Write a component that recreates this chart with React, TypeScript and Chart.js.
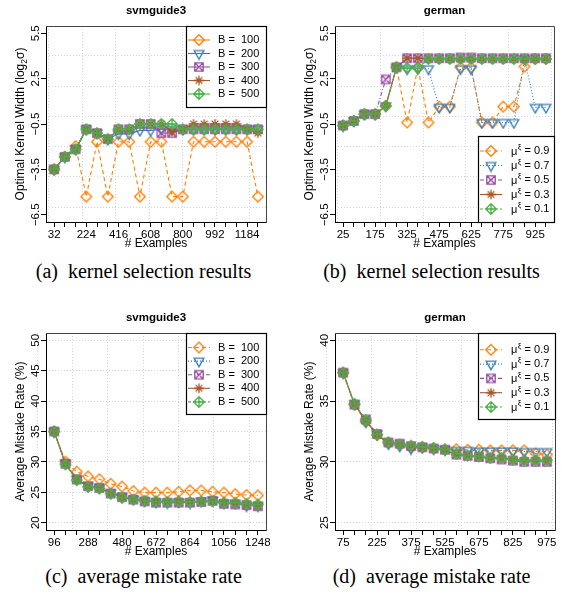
import React, { useEffect, useRef } from 'react';
import { Chart, registerables } from 'chart.js';
Chart.register(...registerables);

const FONT = '"Liberation Sans", Arial, Helvetica, sans-serif';
const SERIF = '"Liberation Serif", "Times New Roman", Times, serif';

const COLORS = ['#FF7F00', '#377EB8', '#984EA3', '#A65628', '#4DAF4A'];
const B_LABELS = ['B =  100', 'B =  200', 'B =  300', 'B =  400', 'B =  500'];
const MU_LABELS = ['0.9', '0.7', '0.5', '0.3', '0.1'];

// (a) svmguide3 – optimal kernel width
const kernelSvmExamples = [32, 96, 160, 224, 288, 352, 416, 480, 544, 608, 672, 736, 800, 864, 928, 992, 1056, 1120, 1184, 1248];
const kernelSvmB100 = [-3.5, -2.67, -1.97, -5.3, -1.67, -5.3, -1.67, -1.67, -5.3, -1.67, -1.67, -5.3, -5.3, -1.67, -1.67, -1.67, -1.67, -1.67, -1.67, -5.3];
const kernelSvmB200 = [-3.5, -2.67, -2.17, -0.85, -1.1, -1.5, -1.15, -1.15, -0.92, -0.92, -0.85, -0.85, -0.85, -0.85, -0.85, -0.85, -0.85, -0.85, -0.85, -0.85];
const kernelSvmB300 = [-3.5, -2.67, -2.17, -0.85, -1.1, -1.5, -0.85, -0.85, -0.5, -0.5, -1.1, -1.1, -0.85, -0.85, -0.85, -0.85, -0.85, -0.85, -0.85, -0.85];
const kernelSvmB400 = [-3.5, -2.67, -2.17, -0.85, -1.1, -1.5, -0.85, -0.85, -0.5, -0.5, -0.5, -1.0, -0.85, -0.5, -0.5, -0.5, -0.5, -0.5, -0.85, -1.1];
const kernelSvmB500 = [-3.5, -2.67, -2.17, -0.85, -1.1, -1.5, -0.85, -0.85, -0.5, -0.5, -0.5, -0.5, -0.85, -0.85, -0.85, -0.85, -0.85, -0.85, -0.85, -0.85];

// (b) german – optimal kernel width
const kernelGerExamples = [25, 75, 125, 175, 225, 275, 325, 375, 425, 475, 525, 575, 625, 675, 725, 775, 825, 875, 925, 975];
const kernelGerMu09 = [-0.6, -0.3, 0.15, 0.15, 0.7, 3.25, -0.4, 3.25, -0.4, 0.65, 0.65, 3.25, 3.25, -0.4, -0.4, 0.65, 0.65, 3.3, 3.8, 3.8];
const kernelGerMu07 = [-0.6, -0.3, 0.15, 0.15, 0.7, 3.25, 3.15, 3.15, 3.15, 0.6, 0.6, 3.15, 3.15, -0.4, -0.4, -0.4, -0.4, 3.8, 0.6, 0.6];
const kernelGerMu05 = [-0.6, -0.3, 0.15, 0.15, 2.45, 3.25, 3.85, 3.85, 3.85, 3.85, 3.85, 3.9, 3.9, 3.85, 3.85, 3.85, 3.85, 3.85, 3.85, 3.85];
const kernelGerMu03 = [-0.6, -0.3, 0.15, 0.15, 0.7, 3.25, 3.85, 3.85, 3.8, 3.8, 3.8, 3.8, 3.8, 3.8, 3.8, 3.8, 3.8, 3.8, 3.8, 3.8];
const kernelGerMu01 = [-0.6, -0.3, 0.15, 0.15, 0.7, 3.25, 3.2, 3.2, 3.8, 3.8, 3.8, 3.8, 3.8, 3.8, 3.8, 3.8, 3.8, 3.8, 3.8, 3.8];

// (c) svmguide3 – average mistake rate
const mistakeSvmExamples = [96, 160, 224, 288, 352, 416, 480, 544, 608, 672, 736, 800, 864, 928, 992, 1056, 1120, 1184, 1248];
const mistakeSvmB100 = [35.0, 30.05, 28.4, 27.6, 27.15, 26.4, 25.95, 25.2, 24.95, 24.95, 24.95, 25.1, 25.3, 25.3, 25.1, 24.95, 24.7, 24.55, 24.5];
const mistakeSvmB200 = [35.0, 29.8, 27.2, 26.1, 25.8, 24.9, 24.3, 23.9, 23.6, 23.4, 23.3, 23.4, 23.3, 23.6, 23.7, 23.2, 23.2, 22.8, 22.8];
const mistakeSvmB300 = [35.0, 29.7, 27.1, 26.0, 25.7, 24.8, 24.2, 23.8, 23.5, 23.3, 23.3, 23.3, 23.3, 23.4, 23.6, 23.1, 23.0, 22.9, 22.7];
const mistakeSvmB400 = [35.0, 29.7, 27.1, 26.0, 25.7, 24.8, 24.2, 23.8, 23.6, 23.5, 23.4, 23.5, 23.4, 23.5, 23.6, 23.3, 23.2, 23.0, 22.9];
const mistakeSvmB500 = [35.0, 29.6, 27.0, 25.9, 25.6, 24.8, 24.1, 23.8, 23.6, 23.5, 23.4, 23.5, 23.4, 23.5, 23.5, 23.3, 23.3, 23.1, 23.0];

// (d) german – average mistake rate
const mistakeGerExamples = [75, 125, 175, 225, 275, 325, 375, 425, 475, 525, 575, 625, 675, 725, 775, 825, 875, 925, 975];
const mistakeGerMu09 = [37.34, 34.7, 33.3, 32.2, 31.55, 31.4, 31.2, 31.2, 31.1, 31.05, 31.05, 31.0, 31.0, 30.95, 30.95, 30.95, 30.95, 30.7, 30.6];
const mistakeGerMu07 = [37.34, 34.8, 33.3, 32.3, 31.5, 31.3, 31.1, 31.2, 31.1, 31.0, 30.95, 30.95, 30.9, 30.9, 30.9, 30.9, 30.85, 30.85, 30.85];
const mistakeGerMu05 = [37.34, 34.7, 33.5, 32.3, 31.6, 31.5, 31.3, 31.2, 31.1, 31.0, 30.6, 30.5, 30.4, 30.3, 30.2, 30.1, 30.0, 30.0, 30.0];
const mistakeGerMu03 = [37.34, 34.75, 33.4, 32.2, 31.6, 31.45, 31.3, 31.2, 31.1, 30.95, 30.6, 30.5, 30.4, 30.3, 30.3, 30.2, 30.1, 30.1, 30.1];
const mistakeGerMu01 = [37.34, 34.78, 33.43, 32.25, 31.62, 31.43, 31.34, 31.24, 31.15, 31.0, 30.68, 30.52, 30.46, 30.33, 30.33, 30.19, 30.13, 30.13, 30.13];

// axis ticks / grid
const kernelYTicks = [5.5, 2.5, -0.5, -3.5, -6.5];
const kernelYTickLabels = ['5.5', '2.5', '\u22120.5', '\u22123.5', '\u22126.5'];
const kernelYGrid = [-6, -4, -2, 0, 2, 4];
const mistakeSvmYTicks = [20, 25, 30, 35, 40, 45, 50];
const mistakeSvmYTickLabels = ['20', '25', '30', '35', '40', '45', '50'];
const mistakeGerYTicks = [25, 30, 35, 40];
const mistakeGerYTickLabels = ['25', '30', '35', '40'];
const svmXGrid = [0, 200, 400, 600, 800, 1000, 1200];
const gerXGrid = [0, 200, 400, 600, 800, 1000];

const DASH_STD = [[4, 3], [1, 2], [4, 2, 1, 2], [], [3, 2]];

type PanelSpec = {
  title: string;
  left: number; top: number; width: number; height: number;
  area: { left: number; top: number; right: number; bottom: number };
  x: number[];
  series: number[][];
  xMin: number; xMax: number; yMin: number; yMax: number;
  yTicks: number[]; yTickLabels: string[];
  xGrid: number[]; yGrid: number[];
  yTitle: { t: string; s: number; dy: number }[];
  legend: { x0: number; y0: number; x1: number; y1: number; start: number; step: number; textDx: number };
  mu: boolean;
  dashes: number[][];
  legendDashes: number[][];
};

function ext(a: number, b: number, lo: boolean) {
  const r = (b - a) * 0.04;
  return lo ? a - r : b + r;
}

const panels: PanelSpec[] = [
  {
    title: 'svmguide3', left: 0, top: 0, width: 288, height: 255,
    area: { left: 46, top: 26, right: 266, bottom: 222 },
    x: kernelSvmExamples,
    series: [kernelSvmB100, kernelSvmB200, kernelSvmB300, kernelSvmB400, kernelSvmB500],
    xMin: ext(32, 1248, true), xMax: ext(32, 1248, false), yMin: ext(-6.5, 5.5, true), yMax: ext(-6.5, 5.5, false),
    yTicks: kernelYTicks, yTickLabels: kernelYTickLabels, xGrid: svmXGrid, yGrid: kernelYGrid,
    yTitle: [{ t: 'Optimal Kernel Width (log', s: 12, dy: 0 }, { t: '2', s: 8.5, dy: 2.5 }, { t: '\u03c3)', s: 12, dy: 0 }],
    legend: { x0: 186, y0: 26, x1: 266, y1: 107, start: 39.5, step: 13.5, textDx: 32 },
    mu: false, dashes: [[4, 3], [], [], [], []], legendDashes: [[], [], [], [], []],
  },
  {
    title: 'german', left: 288, top: 0, width: 287, height: 255,
    area: { left: 47, top: 26, right: 266, bottom: 222 },
    x: kernelGerExamples,
    series: [kernelGerMu09, kernelGerMu07, kernelGerMu05, kernelGerMu03, kernelGerMu01],
    xMin: ext(25, 975, true), xMax: ext(25, 975, false), yMin: ext(-6.5, 5.5, true), yMax: ext(-6.5, 5.5, false),
    yTicks: kernelYTicks, yTickLabels: kernelYTickLabels, xGrid: gerXGrid, yGrid: kernelYGrid,
    yTitle: [{ t: 'Optimal Kernel Width (log', s: 12, dy: 0 }, { t: '2', s: 8.5, dy: 2.5 }, { t: '\u03c3)', s: 12, dy: 0 }],
    legend: { x0: 190, y0: 136, x1: 266, y1: 222, start: 150.5, step: 14.5, textDx: 33 },
    mu: true, dashes: DASH_STD, legendDashes: DASH_STD,
  },
  {
    title: 'svmguide3', left: 0, top: 300, width: 288, height: 262,
    area: { left: 46, top: 33, right: 266, bottom: 230 },
    x: mistakeSvmExamples,
    series: [mistakeSvmB100, mistakeSvmB200, mistakeSvmB300, mistakeSvmB400, mistakeSvmB500],
    xMin: ext(96, 1248, true), xMax: ext(96, 1248, false), yMin: ext(20, 50, true), yMax: ext(20, 50, false),
    yTicks: mistakeSvmYTicks, yTickLabels: mistakeSvmYTickLabels, xGrid: svmXGrid, yGrid: mistakeSvmYTicks,
    yTitle: [{ t: 'Average Mistake Rate (%)', s: 12, dy: 0 }],
    legend: { x0: 186, y0: 33, x1: 266, y1: 114, start: 47, step: 13.6, textDx: 32 },
    mu: false, dashes: DASH_STD, legendDashes: DASH_STD,
  },
  {
    title: 'german', left: 288, top: 300, width: 287, height: 262,
    area: { left: 47, top: 33, right: 267, bottom: 230 },
    x: mistakeGerExamples,
    series: [mistakeGerMu09, mistakeGerMu07, mistakeGerMu05, mistakeGerMu03, mistakeGerMu01],
    xMin: ext(75, 975, true), xMax: ext(75, 975, false), yMin: ext(25, 40, true), yMax: ext(25, 40, false),
    yTicks: mistakeGerYTicks, yTickLabels: mistakeGerYTickLabels, xGrid: gerXGrid, yGrid: mistakeGerYTicks,
    yTitle: [{ t: 'Average Mistake Rate (%)', s: 12, dy: 0 }],
    legend: { x0: 190, y0: 33, x1: 267, y1: 119, start: 49.3, step: 14.3, textDx: 33 },
    mu: true, dashes: DASH_STD, legendDashes: DASH_STD,
  },
];

function makeMarker(kind: number, color: string): HTMLCanvasElement {
  const s = 14;
  const c = document.createElement('canvas');
  c.width = s; c.height = s;
  const g = c.getContext('2d')!;
  g.strokeStyle = color;
  g.lineWidth = 1.3;
  const m = s / 2;
  const r = 5.3;
  g.beginPath();
  if (kind === 0) {
    g.moveTo(m, m - r); g.lineTo(m + r, m); g.lineTo(m, m + r); g.lineTo(m - r, m); g.closePath();
  } else if (kind === 1) {
    g.moveTo(m - 4.9, m - 2.8); g.lineTo(m + 4.9, m - 2.8); g.lineTo(m, m + 5.6); g.closePath();
  } else if (kind === 2) {
    g.rect(m - 4.2, m - 4.2, 8.4, 8.4);
    g.moveTo(m - 4.2, m - 4.2); g.lineTo(m + 4.2, m + 4.2); g.moveTo(m + 4.2, m - 4.2); g.lineTo(m - 4.2, m + 4.2);
  } else if (kind === 3) {
    g.moveTo(m - 4.8, m); g.lineTo(m + 4.8, m); g.moveTo(m, m - 4.8); g.lineTo(m, m + 4.8);
    const d = 3.4;
    g.moveTo(m - d, m - d); g.lineTo(m + d, m + d); g.moveTo(m + d, m - d); g.lineTo(m - d, m + d);
  } else {
    g.moveTo(m, m - r); g.lineTo(m + r, m); g.lineTo(m, m + r); g.lineTo(m - r, m); g.closePath();
    g.moveTo(m - r, m); g.lineTo(m + r, m); g.moveTo(m, m - r); g.lineTo(m, m + r);
  }
  g.stroke();
  return c;
}

function makePlugin(spec: PanelSpec, markers: HTMLCanvasElement[]) {
  return {
    id: 'rStyle',
    afterDraw(chart: any) {
      const ctx: CanvasRenderingContext2D = chart.ctx;
      const a = chart.chartArea;
      ctx.save();
      ctx.strokeStyle = '#444';
      ctx.lineWidth = 1;
      ctx.setLineDash([]);
      ctx.beginPath();
      ctx.moveTo(a.left, a.top + 0.5); ctx.lineTo(a.right + 0.5, a.top + 0.5); ctx.lineTo(a.right + 0.5, a.bottom + 1);
      ctx.stroke();

      const ys = chart.scales.y;
      ctx.fillStyle = '#000';
      ctx.font = `11.5px ${FONT}`;
      ctx.textAlign = 'center';
      ctx.textBaseline = 'alphabetic';
      spec.yTicks.forEach((v, i) => {
        const py = ys.getPixelForValue(v);
        ctx.save();
        ctx.translate(a.left - 7.5, py);
        ctx.rotate(-Math.PI / 2);
        ctx.fillText(spec.yTickLabels[i], 0, 0);
        ctx.restore();
      });

      ctx.save();
      ctx.translate(a.left - 22, (a.top + a.bottom) / 2);
      ctx.rotate(-Math.PI / 2);
      ctx.textAlign = 'left';
      let total = 0;
      const widths = spec.yTitle.map((p) => { ctx.font = `${p.s}px ${FONT}`; const w = ctx.measureText(p.t).width; total += w; return w; });
      let cx = -total / 2;
      spec.yTitle.forEach((p, i) => { ctx.font = `${p.s}px ${FONT}`; ctx.fillText(p.t, cx, p.dy); cx += widths[i]; });
      ctx.restore();

      ctx.font = `12px ${FONT}`;
      ctx.textAlign = 'center';
      ctx.fillText('# Examples', (a.left + a.right) / 2, a.bottom + 25);

      ctx.font = `bold 11.5px ${FONT}`;
      ctx.fillText(spec.title, (a.left + a.right) / 2, a.top - 12);

      const L = spec.legend;
      ctx.fillStyle = '#fff';
      ctx.fillRect(L.x0, L.y0, L.x1 - L.x0, L.y1 - L.y0);
      ctx.strokeStyle = '#000';
      ctx.lineWidth = 1.2;
      ctx.strokeRect(L.x0 + 0.5, L.y0 + 0.5, L.x1 - L.x0, L.y1 - L.y0);
      for (let k = 0; k < 5; k++) {
        const ry = L.start + k * L.step;
        ctx.strokeStyle = COLORS[k];
        ctx.lineWidth = 1.1;
        ctx.setLineDash(spec.legendDashes[k]);
        ctx.beginPath();
        ctx.moveTo(L.x0 + 2, ry + 0.5); ctx.lineTo(L.x0 + 24, ry + 0.5);
        ctx.stroke();
        ctx.setLineDash([]);
        ctx.drawImage(markers[k], L.x0 + 13 - 7, ry + 0.5 - 7);
        ctx.fillStyle = '#000';
        ctx.textAlign = 'left';
        ctx.textBaseline = 'middle';
        const tx = L.x0 + L.textDx;
        if (!spec.mu) {
          ctx.font = `11px ${FONT}`;
          ctx.fillText(B_LABELS[k], tx, ry + 0.5);
        } else {
          ctx.font = `11px ${FONT}`;
          ctx.fillText('\u03bc', tx, ry + 1);
          const w1 = ctx.measureText('\u03bc').width;
          ctx.font = `8px ${FONT}`;
          ctx.fillText('\u03be', tx + w1 + 0.3, ry - 3.5);
          const w2 = ctx.measureText('\u03be').width;
          ctx.font = `11px ${FONT}`;
          ctx.fillText(' = ' + MU_LABELS[k], tx + w1 + w2 + 0.6, ry + 0.5);
        }
      }
      ctx.restore();
    },
  };
}

function buildConfig(spec: PanelSpec): any {
  const markers = [0, 1, 2, 3, 4].map((k) => makeMarker(k, COLORS[k]));
  const tickFont = { family: FONT, size: 11.5 };
  return {
    type: 'line',
    data: {
      datasets: spec.series.map((vals, k) => ({
        label: String(k),
        data: spec.x.map((x, i) => ({ x, y: vals[i] })),
        xAxisID: 'x',
        yAxisID: 'y',
        borderColor: COLORS[k],
        backgroundColor: COLORS[k],
        borderWidth: 1.1,
        borderDash: spec.dashes[k],
        pointStyle: markers[k],
        pointRadius: 5,
        pointHoverRadius: 5,
        tension: 0,
        fill: false,
        order: 4 - k,
      })),
    },
    options: {
      animation: false,
      responsive: false,
      maintainAspectRatio: false,
      events: [],
      layout: { padding: { left: 0, top: spec.area.top, right: spec.width - spec.area.right, bottom: 0 } },
      plugins: { legend: { display: false }, title: { display: false }, tooltip: { enabled: false } },
      scales: {
        xg: {
          type: 'linear', position: 'bottom', min: spec.xMin, max: spec.xMax, bounds: 'data',
          afterBuildTicks: (s: any) => { s.ticks = spec.xGrid.map((v) => ({ value: v })); },
          afterFit: (s: any) => { s.height = 0; s.paddingLeft = 0; s.paddingRight = 0; },
          ticks: { display: false },
          grid: { drawOnChartArea: true, drawTicks: false, color: '#d4d4d4', lineWidth: 1 },
          border: { display: false, dash: [1, 2] },
        },
        yg: {
          type: 'linear', position: 'left', min: spec.yMin, max: spec.yMax, bounds: 'data',
          afterBuildTicks: (s: any) => { s.ticks = spec.yGrid.map((v) => ({ value: v })); },
          afterFit: (s: any) => { s.width = 0; s.paddingTop = 0; s.paddingBottom = 0; },
          ticks: { display: false },
          grid: { drawOnChartArea: true, drawTicks: false, color: '#d4d4d4', lineWidth: 1 },
          border: { display: false, dash: [1, 2] },
        },
        x: {
          type: 'linear', position: 'bottom', min: spec.xMin, max: spec.xMax, bounds: 'data',
          afterBuildTicks: (s: any) => { s.ticks = spec.x.map((v) => ({ value: v })); },
          afterFit: (s: any) => { s.height = spec.height - spec.area.bottom; s.paddingLeft = 0; s.paddingRight = 0; },
          ticks: {
            autoSkip: false, maxRotation: 0, minRotation: 0, padding: 1, color: '#000', font: tickFont,
            callback: (v: any, i: number) => (i % 3 === 0 ? String(v) : ''),
          },
          grid: { drawOnChartArea: false, drawTicks: true, tickLength: 5, tickColor: '#000', tickWidth: 1, color: '#000' },
          border: { display: true, color: '#000', width: 1 },
        },
        y: {
          type: 'linear', position: 'left', min: spec.yMin, max: spec.yMax, bounds: 'data',
          afterBuildTicks: (s: any) => { s.ticks = spec.yTicks.map((v) => ({ value: v })); },
          afterFit: (s: any) => { s.width = spec.area.left; s.paddingTop = 0; s.paddingBottom = 0; },
          ticks: { display: false },
          grid: { drawOnChartArea: false, drawTicks: true, tickLength: 5, tickColor: '#000', tickWidth: 1, color: '#000' },
          border: { display: true, color: '#000', width: 1 },
        },
      },
    },
    plugins: [makePlugin(spec, markers)],
  };
}

function Panel({ spec }: { spec: PanelSpec }) {
  const ref = useRef<HTMLCanvasElement>(null);
  useEffect(() => {
    const chart = new Chart(ref.current as HTMLCanvasElement, buildConfig(spec));
    return () => chart.destroy();
  }, [spec]);
  return (
    <div style={{ position: 'absolute', left: spec.left, top: spec.top, width: spec.width, height: spec.height }}>
      <canvas ref={ref} width={spec.width} height={spec.height} style={{ width: spec.width, height: spec.height }} />
    </div>
  );
}

const captions = [
  { text: '(a)\u2002kernel selection results', left: 0, top: 261 },
  { text: '(b)\u2002kernel selection results', left: 288, top: 261 },
  { text: '(c)\u2002average mistake rate', left: 0, top: 566 },
  { text: '(d)\u2002average mistake rate', left: 288, top: 566 },
];

export default function App() {
  return (
    <div style={{ position: 'absolute', left: 0, top: 0, width: 575, height: 598, background: '#fff', overflow: 'hidden' }}>
      {panels.map((p, i) => <Panel key={i} spec={p} />)}
      {captions.map((c, i) => (
        <div key={'c' + i} style={{ position: 'absolute', left: c.left, top: c.top, width: 287, textAlign: 'center', fontFamily: SERIF, fontSize: 20, lineHeight: '20px', whiteSpace: 'nowrap', color: '#000' }}>
          {c.text}
        </div>
      ))}
    </div>
  );
}
